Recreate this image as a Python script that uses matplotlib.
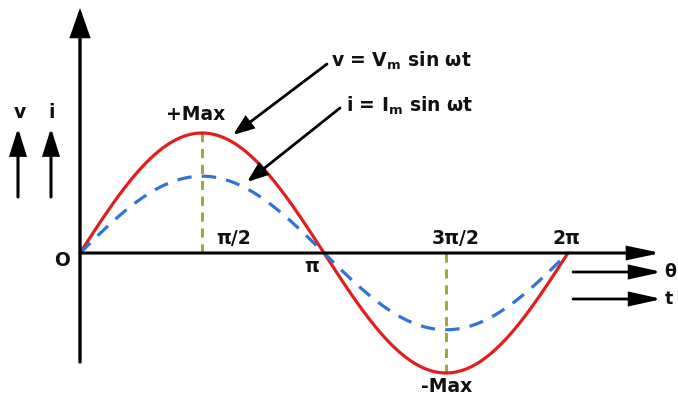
import numpy as np
import matplotlib
matplotlib.use("Agg")
import matplotlib.pyplot as plt
from matplotlib.patches import FancyArrowPatch

plt.rcParams['mathtext.fontset'] = 'custom'
plt.rcParams['mathtext.rm'] = 'DejaVu Sans:bold'
plt.rcParams['mathtext.default'] = 'rm'

# ---- data ----
Vm = 1.0          # voltage peak amplitude
Im = 0.64         # current peak amplitude
period_end = 2 * np.pi
tick_pos = [np.pi / 2, np.pi, 3 * np.pi / 2, 2 * np.pi]
tick_labels = ["π/2", "π", "3π/2", "2π"]
eq_v = "v = V$_{\\mathrm{m}}$ sin ωt"
eq_i = "i = I$_{\\mathrm{m}}$ sin ωt"

W, H = 678, 398
fig = plt.figure(figsize=(W / 100, H / 100), dpi=100)
ax = fig.add_axes([0, 0, 1, 1])
ax.set_axis_off()

# pixel mapping: theta=0 -> px 80, 2pi -> px 568; y=0 -> px 253, Vm -> 120 px
sx = 488 / (2 * np.pi)
sy = 120.0
ax.set_xlim(-80 / sx, (W - 80) / sx)
ax.set_ylim(-(H - 253) / sy, 253 / sy)

def P(x, y):
    """pixel (from top-left) -> data coords"""
    return ((x - 80) / sx, (253 - y) / sy)

red = '#e01e1e'
blue = '#2f74d6'
green = '#a2a83a'

th = np.linspace(0, period_end, 400)
ax.plot(th, Vm * np.sin(th), color=red, lw=2.3, zorder=3, solid_capstyle='round')
ax.plot(th, Im * np.sin(th), color=blue, lw=2.3, ls=(0, (4.5, 3.2)), zorder=4)

# vertical dashed guides at peaks
ax.plot([np.pi / 2, np.pi / 2], [0, Vm], color=green, lw=2.2, ls=(0, (3, 2.2)), zorder=2)
ax.plot([3 * np.pi / 2, 3 * np.pi / 2], [0, -Vm], color=green, lw=2.2, ls=(0, (3, 2.2)), zorder=2)

def arrow(p0, p1, lw, hl, hw, color='black', z=5):
    a = FancyArrowPatch(P(*p0), P(*p1),
                        arrowstyle=f'-|>,head_length={hl},head_width={hw}',
                        mutation_scale=1, lw=lw, color=color,
                        shrinkA=0, shrinkB=0, zorder=z, joinstyle='miter')
    ax.add_patch(a)

# axes
arrow((80, 362), (80, 8), 2.4, 17, 6.0)
arrow((80, 253), (661, 253), 2.2, 19, 4.0)
# v, i small arrows
arrow((18, 197), (18, 128), 2.2, 16, 5.0)
arrow((51, 197), (51, 128), 2.2, 16, 5.0)
# theta, t arrows
arrow((573, 272), (662, 272), 2.0, 19, 4.2)
arrow((573, 299), (662, 299), 2.0, 19, 4.2)
# pointer arrows
arrow((327, 64), (233, 135), 2.0, 12, 4.5)
arrow((340, 108), (247, 182), 2.0, 12, 4.5)

fs = 13.5
def T(x, y, s, ha='left', va='center', size=fs):
    ax.text(*P(x, y), s, ha=ha, va=va, fontsize=size, fontweight='bold',
            family='DejaVu Sans', color='#111111')

T(20, 113, "v", ha='center')
T(52, 113, "i", ha='center')
T(196, 115, "+Max", ha='center')
T(447, 387, "-Max", ha='center')
T(62, 260, "O", ha='center')
T(331, 61, eq_v)
T(346, 106, eq_i)

label_px = [(234, 238), (312, 267), (456, 238), (566, 238)]
for (px_, py_), lab in zip(label_px, tick_labels):
    T(px_, py_, lab, ha='center')

T(664, 272, "θ", size=12.5)
T(665, 299, "t", size=12.5)

fig.savefig("out.png", dpi=100)
